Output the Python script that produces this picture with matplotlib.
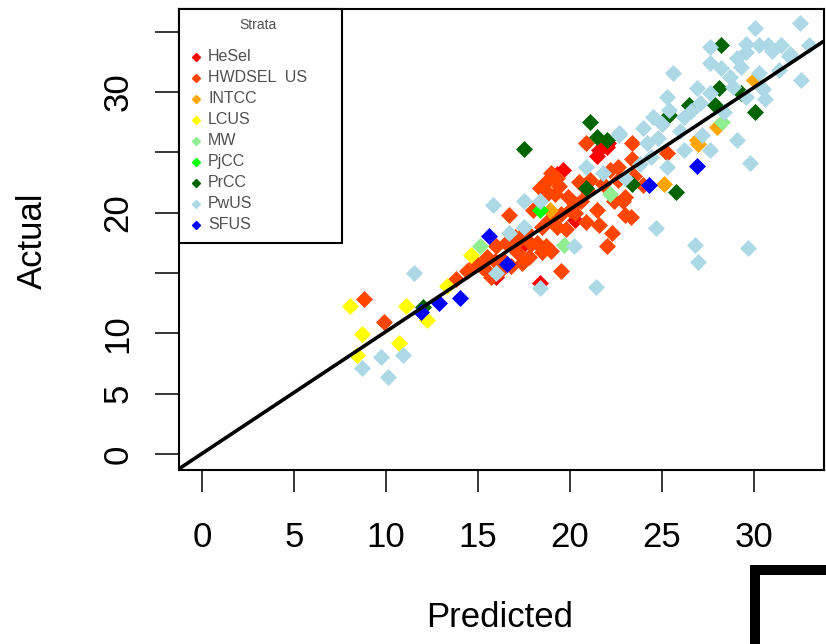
import matplotlib.pyplot as plt
from matplotlib.patches import Rectangle
from matplotlib.lines import Line2D

plt.rcParams['font.family'] = ['Liberation Sans', 'DejaVu Sans']

# strata names and colours (legend order)
strata = ['HeSel', 'HWDSEL  US', 'INTCC', 'LCUS', 'MW', 'PjCC', 'PrCC', 'PwUS', 'SFUS']
colors = ['#FF0000', '#FF4500', '#FFA500', '#FFFF00', '#90EE90',
          '#00FF00', '#006400', '#ADD8E6', '#0000FF']

# (predicted, actual) per stratum
hesel_pred = [21.6, 22.1, 19.6, 19.3, 22.0, 21.5, 17.4, 16.0, 18.4, 20.3]
hesel_act = [25.2, 25.8, 23.5, 23.2, 25.4, 24.7, 17.2, 14.7, 14.2, 19.4]

hwd_pred = [20.9, 23.4, 22.6, 23.4, 19.3, 18.7, 19.4, 21.1, 20.6, 20.0,
            21.5, 22.9, 23.3, 22.3, 22.0, 19.5, 16.7, 18.0, 18.5, 19.3,
            19.8, 18.2, 18.7, 17.8, 17.1, 16.0, 15.5, 14.9, 15.5, 16.2,
            15.7, 14.4, 17.4, 18.5, 8.8, 9.9, 23.5, 25.3, 22.4, 23.0,
            17.0, 17.6, 18.9, 19.5, 20.3, 16.4, 17.9, 19.0, 21.0, 21.8,
            22.6, 24.0, 15.2, 16.8, 18.8, 19.9, 20.5, 19.2, 20.8, 23.0,
            22.2, 20.3, 13.8, 18.4, 19.0, 17.3, 16.5, 20.9, 21.6, 15.9]
hwd_act = [25.8, 25.8, 23.8, 24.4, 22.9, 22.5, 22.2, 22.7, 21.0, 20.2,
           20.2, 21.0, 19.6, 18.3, 17.2, 15.2, 19.8, 20.2, 18.8, 18.8,
           18.6, 17.5, 17.2, 16.3, 16.7, 17.2, 16.3, 15.8, 15.2, 15.2,
           14.7, 15.2, 15.8, 16.7, 12.8, 10.9, 23.0, 24.9, 21.0, 21.3,
           18.0, 18.5, 19.5, 19.9, 20.7, 16.0, 17.4, 16.8, 21.8, 22.4,
           22.7, 22.3, 15.5, 15.6, 21.6, 21.3, 22.5, 21.5, 22.3, 19.8,
           23.5, 20.0, 14.5, 22.0, 23.3, 17.8, 17.5, 19.2, 19.0, 16.0]

intcc_pred = [26.9, 28.0, 25.1, 30.0, 18.9, 27.0]
intcc_act = [26.0, 27.1, 22.4, 31.0, 20.2, 25.7]

lcus_pred = [8.05, 8.7, 10.7, 8.4, 11.1, 12.2, 14.6, 13.3]
lcus_act = [12.3, 9.9, 9.2, 8.2, 12.3, 11.1, 16.5, 13.9]

mw_pred = [28.3, 22.2, 19.7, 15.1]
mw_act = [27.5, 21.5, 17.3, 17.2]

pjcc_pred = [18.4]
pjcc_act = [20.2]

prcc_pred = [28.2, 25.4, 26.5, 28.1, 29.3, 30.1, 27.9, 23.4, 25.8, 17.5,
             21.5, 21.1, 20.9, 12.0, 22.0]
prcc_act = [33.9, 28.1, 28.9, 30.3, 29.9, 28.3, 28.9, 22.4, 21.7, 25.3,
            26.3, 27.5, 22.0, 12.2, 26.0]

pwus_pred = [8.7, 9.7, 10.9, 10.1, 11.5, 15.8, 17.5, 18.4, 16.7, 17.5,
             20.2, 21.4, 18.4, 20.9, 21.8, 22.7, 24.7, 26.8, 27.0, 29.7,
             16.0, 32.5, 30.1, 29.6, 30.3, 30.8, 31.5, 27.6, 29.1, 29.6,
             31.0, 27.6, 28.2, 25.6, 29.3, 30.3, 32.6, 26.9, 28.9, 27.6,
             25.3, 30.5, 29.6, 27.1, 25.4, 24.5, 26.2, 25.0, 22.7, 27.2,
             29.1, 27.6, 29.8, 26.2, 24.2, 24.4, 25.3, 33.0, 31.9, 23.0,
             23.8, 24.8, 26.0, 28.4, 30.6, 31.4, 32.0, 28.7, 26.6, 24.0]
pwus_act = [7.1, 8.0, 8.2, 6.4, 15.0, 20.6, 21.0, 21.0, 18.3, 18.8,
            17.2, 13.8, 13.75, 23.8, 23.3, 26.4, 18.7, 17.3, 15.9, 17.1,
            15.0, 35.7, 35.3, 34.0, 33.9, 33.9, 33.9, 33.7, 32.8, 33.3,
            33.4, 32.4, 32.0, 31.6, 32.1, 31.6, 31.0, 30.3, 30.4, 29.9,
            29.6, 30.2, 29.6, 29.1, 28.5, 27.9, 27.9, 27.3, 26.6, 26.4,
            26.0, 25.2, 24.1, 25.2, 25.8, 24.6, 23.8, 33.9, 33.0, 22.9,
            24.0, 26.2, 26.8, 28.3, 29.4, 31.8, 33.1, 31.2, 28.4, 27.0]

sfus_pred = [15.6, 16.6, 24.3, 14.0, 12.9, 11.9, 26.9]
sfus_act = [18.1, 15.7, 22.3, 12.9, 12.5, 11.8, 23.9]

series = [(hesel_pred, hesel_act), (hwd_pred, hwd_act), (intcc_pred, intcc_act),
          (lcus_pred, lcus_act), (mw_pred, mw_act), (pjcc_pred, pjcc_act),
          (prcc_pred, prcc_act), (pwus_pred, pwus_act), (sfus_pred, sfus_act)]

# 1:1 style fit line
fit_intercept = 0.05
fit_slope = 1.01

fig = plt.figure(figsize=(8.26, 6.44), dpi=100)
ax = fig.add_axes([179 / 826, 1 - 470 / 644, 645 / 826, 461 / 644])

for (px, py), c in zip(series, colors):
    ax.plot(px, py, linestyle='none', marker='D', markersize=8.2,
            markerfacecolor=c, markeredgecolor=c, markeredgewidth=0.5)

ax.axline((0, fit_intercept), slope=fit_slope, color='black', linewidth=2.6)

ax.set_xlim(-1.27, 33.83)
ax.set_ylim(-1.33, 36.87)

ax.set_xticks([0, 5, 10, 15, 20, 25, 30])
ax.set_xticklabels(['0', '5', '10', '15', '20', '25', '30'])
ax.set_yticks([0, 5, 10, 15, 20, 25, 30, 35])
ax.set_yticklabels(['0', '5', '10', '', '20', '', '30', ''],
                   rotation=90, va='center')
ax.tick_params(axis='x', direction='out', length=16, width=1.1, pad=21,
               labelsize=25)
ax.tick_params(axis='y', direction='out', length=17, width=1.1, pad=15,
               labelsize=25)
for s in ax.spines.values():
    s.set_linewidth(1.5)

fig.text(500 / 826, 1 - 627 / 644, 'Predicted', fontsize=25,
         ha='center', va='baseline')
fig.text(42 / 826, 1 - 241 / 644, 'Actual', fontsize=25, rotation=90,
         rotation_mode='anchor', ha='center', va='baseline')

# legend box drawn by hand in pixel layout
lx0, ly0, lx1, ly1 = 179, 9, 342, 243
fig.patches.append(Rectangle((lx0 / 826, 1 - ly1 / 644), (lx1 - lx0) / 826,
                             (ly1 - ly0) / 644, transform=fig.transFigure,
                             facecolor='white', edgecolor='black',
                             linewidth=1.5, zorder=5))
fig.text(258 / 826, 1 - 25 / 644, 'Strata', fontsize=10, color='#505050',
         ha='center', va='center', zorder=6)
for i, (name, c) in enumerate(zip(strata, colors)):
    yy = 1 - (56.5 + 21.0 * i) / 644
    fig.lines.append(Line2D([196 / 826], [yy], transform=fig.transFigure,
                            marker='D', markersize=4, color=c,
                            linestyle='none', zorder=6))
    fig.text(208 / 826, yy, name, fontsize=11.5, color='#505050',
             ha='left', va='center', zorder=6)

# corner of neighbouring panel
fig.patches.append(Rectangle((755 / 826, -0.2), 0.3, 1 - 570 / 644 + 0.2,
                             transform=fig.transFigure, facecolor='none',
                             edgecolor='black', linewidth=7.2))

fig.savefig('out.png', dpi=100)
